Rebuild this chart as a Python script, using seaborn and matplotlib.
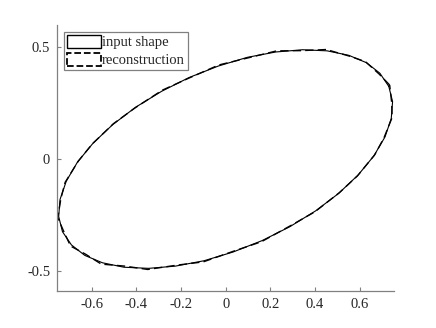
import numpy as np
import pandas as pd
import seaborn as sns
import matplotlib.pyplot as plt
from matplotlib.patches import Patch

# outline of the input shape
input_x = [0.731, 0.691, 0.631, 0.552, 0.455, 0.345, 0.225, 0.097, -0.033, -0.163,
           -0.287, -0.403, -0.506, -0.594, -0.664, -0.714, -0.742, -0.748,
           -0.731, -0.691, -0.631, -0.552, -0.455, -0.345, -0.225, -0.097, 0.033, 0.163,
           0.287, 0.403, 0.506, 0.594, 0.664, 0.714, 0.742, 0.748, 0.731]
input_y = [0.325, 0.384, 0.431, 0.464, 0.484, 0.489, 0.479, 0.455, 0.416, 0.365,
           0.303, 0.232, 0.154, 0.071, -0.014, -0.099, -0.181, -0.257,
           -0.325, -0.384, -0.431, -0.464, -0.484, -0.489, -0.479, -0.455, -0.416, -0.365,
           -0.303, -0.232, -0.154, -0.071, 0.014, 0.099, 0.181, 0.257, 0.325]

# reconstruction, a little wobbly around the input
recon_x = [0.735, 0.688, 0.626, 0.556, 0.451, 0.342, 0.229, 0.094, -0.030, -0.167,
           -0.284, -0.407, -0.503, -0.598, -0.660, -0.719, -0.738, -0.752,
           -0.727, -0.695, -0.627, -0.557, -0.451, -0.349, -0.221, -0.100, 0.036, 0.160,
           0.291, 0.400, 0.510, 0.590, 0.668, 0.709, 0.746, 0.744, 0.735]
recon_y = [0.331, 0.380, 0.436, 0.460, 0.490, 0.485, 0.484, 0.451, 0.421, 0.361,
           0.308, 0.228, 0.158, 0.067, -0.009, -0.104, -0.176, -0.262,
           -0.320, -0.389, -0.426, -0.470, -0.479, -0.494, -0.475, -0.460, -0.412, -0.370,
           -0.298, -0.236, -0.150, -0.076, 0.019, 0.094, 0.186, 0.252, 0.331]

labels = ["input shape", "reconstruction"]

sns.set_style("ticks")
plt.rcParams['font.family'] = ['Liberation Serif', 'DejaVu Serif']
plt.rcParams['font.size'] = 10.5

fig = plt.figure(figsize=(4.36, 3.28), dpi=100)
ax = fig.add_axes([0.131, 0.113, 0.773, 0.811])

sns.lineplot(x=input_x, y=input_y, sort=False, estimator=None, color='black',
             linewidth=0.8, ax=ax)
sns.lineplot(x=recon_x, y=recon_y, sort=False, estimator=None, color='black',
             linewidth=1.0, linestyle=(0, (6, 3)), ax=ax)

ax.set_xlim(-0.755, 0.755)
ax.set_ylim(-0.59, 0.60)
ax.set_xticks([-0.6, -0.4, -0.2, 0, 0.2, 0.4, 0.6])
ax.set_xticklabels(['-0.6', '-0.4', '-0.2', '0', '0.2', '0.4', '0.6'])
ax.set_yticks([-0.5, 0, 0.5])
ax.set_yticklabels(['-0.5', '0', '0.5'])

sns.despine(ax=ax)
for s in ['left', 'bottom']:
    ax.spines[s].set_color('#808080')
    ax.spines[s].set_linewidth(0.9)
ax.tick_params(direction='in', length=3, width=0.8, color='#808080', labelsize=10.5,
               pad=5)

handles = [Patch(facecolor='white', edgecolor='black', linewidth=1.0, linestyle='-'),
           Patch(facecolor='white', edgecolor='black', linewidth=1.3, linestyle='--')]
leg = ax.legend(handles, labels, loc='upper left', bbox_to_anchor=(0.012, 0.985),
                frameon=True, fancybox=False, edgecolor='#808080', framealpha=1,
                handlelength=2.3, handleheight=1.0, handletextpad=0.1,
                labelspacing=0.25, borderpad=0.2, borderaxespad=0.2, fontsize=10.5)
leg.get_frame().set_linewidth(0.9)

plt.savefig('out.png', dpi=100)
